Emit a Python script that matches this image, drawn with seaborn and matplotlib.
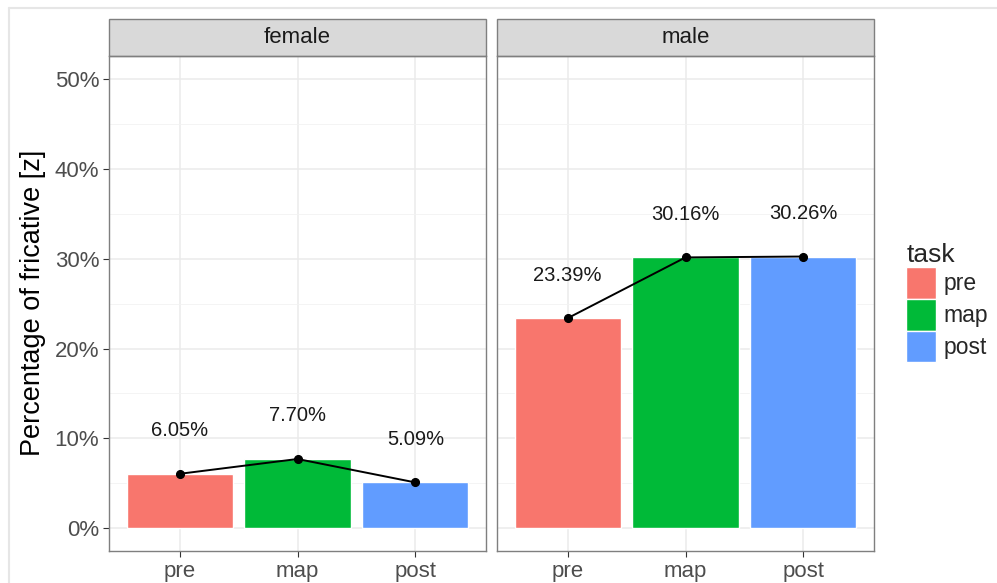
import numpy as np
import pandas as pd
import matplotlib
matplotlib.use("Agg")
import matplotlib.pyplot as plt
import seaborn as sns
from matplotlib.patches import Rectangle, Patch
from matplotlib.lines import Line2D

genders = ["female", "male"]
tasks = ["pre", "map", "post"]
female_pct = [6.05, 7.70, 5.09]
male_pct = [23.39, 30.16, 30.26]
palette = {"pre": "#F8766D", "map": "#00BA38", "post": "#619CFF"}

df = pd.DataFrame({
    "gender": np.repeat(genders, len(tasks)),
    "task": tasks * len(genders),
    "pct": female_pct + male_pct,
})

sns.set_style("white")
plt.rcParams["font.family"] = ["Liberation Sans", "DejaVu Sans"]

W, H = 997, 583
fig = plt.figure(figsize=(W / 100, H / 100), dpi=100)

# light frame of the screenshot
fig.add_artist(Line2D([9 / W, 1], [1 - 8 / H, 1 - 8 / H], color="#E6E6E6", lw=1.5))
fig.add_artist(Line2D([9 / W, 9 / W], [0, 1 - 8 / H], color="#E6E6E6", lw=1.5))

panel_left = [109, 497]
panel_w = 377
top, bottom = 56, 551
strip_h = 37

axes = []
for i, g in enumerate(genders):
    ax = fig.add_axes([panel_left[i] / W, 1 - bottom / H, panel_w / W, (bottom - top) / H])
    sub = df[df["gender"] == g]
    sns.barplot(data=sub, x="task", y="pct", hue="task", order=tasks, hue_order=tasks,
                palette=palette, width=0.9, legend=False, ax=ax, saturation=1)
    sns.pointplot(data=sub, x="task", y="pct", order=tasks, color="black",
                  markers="o", markersize=5.5, linewidth=1.4, ax=ax)
    for j, t in enumerate(tasks):
        v = sub.loc[sub["task"] == t, "pct"].iloc[0]
        ax.text(j, v + 4.8, f"{v:.2f}%", ha="center", va="center",
                fontsize=14.5, color="#1A1A1A")

    ax.set_xlim(-0.6, 2.6)
    ax.set_ylim(-2.55, 52.6)
    ax.set_yticks(np.arange(0, 51, 10))
    ax.set_yticks(np.arange(5, 51, 10), minor=True)
    ax.grid(True, which="major", color="#EBEBEB", lw=1.1)
    ax.grid(True, which="minor", axis="y", color="#F2F2F2", lw=0.6)
    ax.set_axisbelow(True)
    for s in ax.spines.values():
        s.set_color("#7F7F7F")
        s.set_linewidth(1.0)
    ax.tick_params(axis="both", which="major", length=4, color="#333333",
                   labelsize=16, labelcolor="#4D4D4D", bottom=True, left=(i == 0), pad=3)
    ax.tick_params(axis="y", which="minor", length=0)
    ax.set_xlabel("")
    ax.set_ylabel("")
    if i == 0:
        ax.set_yticklabels([f"{int(v)}%" for v in np.arange(0, 51, 10)])
    else:
        ax.set_yticklabels([])

    strip = Rectangle((0, 1), 1, strip_h / (bottom - top), transform=ax.transAxes,
                      facecolor="#D9D9D9", edgecolor="#7F7F7F", lw=1.0, clip_on=False)
    ax.add_patch(strip)
    ax.text(0.5, 1 + strip_h / 2 / (bottom - top), g, transform=ax.transAxes,
            ha="center", va="center", fontsize=16, color="#1A1A1A")
    axes.append(ax)

fig.text(33 / W, 1 - 303 / H, "Percentage of fricative [z]", rotation=90,
         ha="center", va="center", fontsize=19.5, color="black")

handles = [Patch(facecolor=palette[t], edgecolor="white", label=t) for t in tasks]
leg = fig.legend(handles=handles, title="task", loc="upper left",
                 bbox_to_anchor=(897 / W, 1 - 234 / H), frameon=False,
                 fontsize=16.5, title_fontsize=19, handlelength=1.32, handleheight=1.75,
                 handletextpad=0.3, labelspacing=0.0, borderaxespad=0)
leg._legend_box.align = "left"

fig.savefig("out.png", dpi=100, facecolor="white")
